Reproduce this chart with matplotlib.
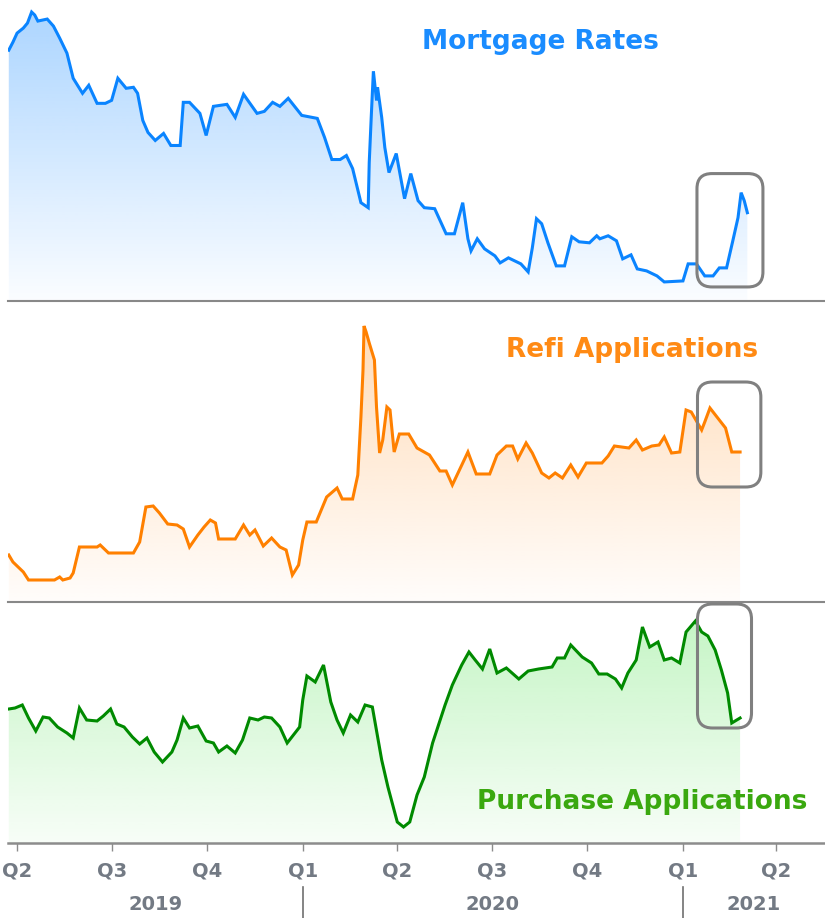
import matplotlib
matplotlib.use("Agg")
import matplotlib.pyplot as plt
import matplotlib.dates as mdates
import matplotlib.colors as mcolors
from matplotlib.patches import FancyBboxPatch
from matplotlib.lines import Line2D
import matplotlib.transforms as mtrans
import numpy as np
import pandas as pd

# --- data (index levels, no y scale shown) ---
rate_dates = ["2019-03-24", "2019-03-28", "2019-04-01", "2019-04-07", "2019-04-11", "2019-04-15",
              "2019-04-18", "2019-04-21", "2019-04-30", "2019-05-06", "2019-05-12", "2019-05-19",
              "2019-05-25", "2019-06-03", "2019-06-09", "2019-06-17", "2019-06-25", "2019-07-01",
              "2019-07-07", "2019-07-15", "2019-07-22", "2019-07-26", "2019-07-31", "2019-08-05",
              "2019-08-12", "2019-08-20", "2019-08-27", "2019-09-05", "2019-09-08", "2019-09-14",
              "2019-09-24", "2019-09-30", "2019-10-07", "2019-10-20", "2019-10-28", "2019-11-05",
              "2019-11-18", "2019-11-25", "2019-12-03", "2019-12-10", "2019-12-18", "2019-12-31",
              "2020-01-15", "2020-01-22", "2020-01-29", "2020-02-06", "2020-02-12", "2020-02-18",
              "2020-02-26", "2020-03-04", "2020-03-05", "2020-03-07", "2020-03-09", "2020-03-12",
              "2020-03-13", "2020-03-17", "2020-03-20", "2020-03-24", "2020-03-31", "2020-04-08",
              "2020-04-14", "2020-04-21", "2020-04-27", "2020-05-07", "2020-05-18", "2020-05-26",
              "2020-06-03", "2020-06-08", "2020-06-11", "2020-06-17", "2020-06-24", "2020-07-04",
              "2020-07-09", "2020-07-17", "2020-07-29", "2020-08-05", "2020-08-09", "2020-08-13",
              "2020-08-18", "2020-08-24", "2020-09-01", "2020-09-09", "2020-09-16", "2020-09-23",
              "2020-10-03", "2020-10-10", "2020-10-13", "2020-10-21", "2020-10-29", "2020-11-04",
              "2020-11-12", "2020-11-18", "2020-11-27", "2020-12-07", "2020-12-14", "2021-01-01",
              "2021-01-06", "2021-01-14", "2021-01-22", "2021-01-30", "2021-02-05", "2021-02-12",
              "2021-02-18", "2021-02-23", "2021-02-26", "2021-03-01", "2021-03-04"]
rate_vals = [250, 258, 267, 272, 277, 288, 285, 279, 281, 274, 262, 247,
             222, 207, 215, 197, 197, 200, 222, 212, 213, 207, 180, 168,
             160, 167, 155, 155, 198, 198, 187, 165, 194, 196, 183, 206,
             187, 189, 198, 194, 202, 185, 182, 163, 141, 141, 145, 132,
             98, 93, 138, 185, 229, 200, 213, 183, 153, 128, 147, 102,
             127, 100, 93, 92, 67, 67, 98, 62, 50, 62, 52, 45,
             38, 43, 37, 29, 53, 82, 77, 58, 35, 35, 64, 59,
             58, 65, 62, 65, 60, 42, 46, 32, 30, 25, 19, 20,
             37, 37, 25, 25, 33, 33, 60, 83, 108, 100, 88]

refi_dates = ["2019-03-24", "2019-03-28", "2019-04-07", "2019-04-12", "2019-05-07", "2019-05-12",
              "2019-05-15", "2019-05-22", "2019-05-25", "2019-05-31", "2019-06-17", "2019-06-20",
              "2019-06-28", "2019-07-22", "2019-07-28", "2019-08-03", "2019-08-10", "2019-08-16",
              "2019-08-24", "2019-09-02", "2019-09-08", "2019-09-14", "2019-09-22", "2019-09-28",
              "2019-10-04", "2019-10-09", "2019-10-12", "2019-10-28", "2019-11-05", "2019-11-11",
              "2019-11-16", "2019-11-24", "2019-12-02", "2019-12-10", "2019-12-16", "2019-12-22",
              "2019-12-28", "2020-01-01", "2020-01-05", "2020-01-14", "2020-01-24", "2020-02-03",
              "2020-02-08", "2020-02-18", "2020-02-23", "2020-02-26", "2020-02-28", "2020-02-29",
              "2020-03-02", "2020-03-05", "2020-03-10", "2020-03-12", "2020-03-15", "2020-03-18",
              "2020-03-22", "2020-03-25", "2020-03-29", "2020-04-03", "2020-04-12", "2020-04-20",
              "2020-05-02", "2020-05-12", "2020-05-18", "2020-05-24", "2020-06-08", "2020-06-16",
              "2020-06-29", "2020-07-06", "2020-07-15", "2020-07-21", "2020-07-26", "2020-08-03",
              "2020-08-09", "2020-08-18", "2020-08-25", "2020-08-31", "2020-09-07", "2020-09-15",
              "2020-09-22", "2020-09-30", "2020-10-15", "2020-10-21", "2020-10-27", "2020-11-10",
              "2020-11-17", "2020-11-23", "2020-12-02", "2020-12-09", "2020-12-14", "2020-12-21",
              "2020-12-29", "2021-01-04", "2021-01-09", "2021-01-19", "2021-01-22", "2021-01-27",
              "2021-02-05", "2021-02-11", "2021-02-17", "2021-02-25"]
refi_vals = [47, 40, 30, 22, 22, 25, 22, 24, 29, 55, 55, 57,
             49, 49, 60, 95, 96, 89, 78, 77, 73, 55, 67, 75,
             82, 79, 63, 63, 77, 67, 72, 56, 64, 55, 52, 27,
             37, 62, 80, 80, 105, 114, 103, 103, 127, 185, 232, 276,
             270, 259, 242, 195, 149, 162, 195, 192, 150, 168, 168, 154,
             147, 131, 131, 117, 150, 128, 128, 147, 156, 156, 143, 159,
             149, 129, 124, 129, 124, 137, 125, 139, 139, 146, 156, 154,
             162, 152, 156, 157, 165, 149, 150, 192, 190, 172, 180, 194,
             182, 174, 150, 150]

purch_dates = ["2019-03-24", "2019-03-30", "2019-04-06", "2019-04-12", "2019-04-19", "2019-04-26",
               "2019-05-02", "2019-05-10", "2019-05-19", "2019-05-25", "2019-05-31", "2019-06-07",
               "2019-06-17", "2019-06-23", "2019-06-30", "2019-07-06", "2019-07-13", "2019-07-21",
               "2019-07-28", "2019-08-04", "2019-08-11", "2019-08-19", "2019-08-28", "2019-09-02",
               "2019-09-08", "2019-09-14", "2019-09-22", "2019-09-30", "2019-10-07", "2019-10-12",
               "2019-10-20", "2019-10-28", "2019-11-04", "2019-11-11", "2019-11-19", "2019-11-25",
               "2019-12-02", "2019-12-10", "2019-12-17", "2019-12-23", "2019-12-29", "2020-01-01",
               "2020-01-05", "2020-01-13", "2020-01-21", "2020-01-28", "2020-02-03", "2020-02-09",
               "2020-02-16", "2020-02-23", "2020-03-01", "2020-03-08", "2020-03-17", "2020-03-23",
               "2020-04-01", "2020-04-07", "2020-04-13", "2020-04-20", "2020-04-27", "2020-05-05",
               "2020-05-17", "2020-05-24", "2020-06-02", "2020-06-09", "2020-06-15", "2020-06-22",
               "2020-06-29", "2020-07-06", "2020-07-15", "2020-07-27", "2020-08-05", "2020-08-15",
               "2020-08-28", "2020-09-02", "2020-09-09", "2020-09-15", "2020-09-26", "2020-10-05",
               "2020-10-12", "2020-10-20", "2020-10-28", "2020-11-03", "2020-11-09", "2020-11-17",
               "2020-11-23", "2020-11-30", "2020-12-08", "2020-12-14", "2020-12-21", "2020-12-29",
               "2021-01-04", "2021-01-13", "2021-01-19", "2021-01-25", "2021-02-01", "2021-02-07",
               "2021-02-13", "2021-02-17", "2021-02-25"]
purch_vals = [134, 135, 138, 125, 112, 126, 125, 116, 110, 105, 135, 123,
              122, 127, 134, 119, 116, 106, 99, 105, 91, 81, 91, 103,
              125, 115, 117, 102, 100, 91, 97, 90, 103, 125, 123, 126,
              125, 116, 100, 108, 116, 143, 167, 161, 178, 141, 123, 110,
              128, 121, 138, 136, 83, 56, 21, 16, 21, 48, 66, 100,
              138, 158, 178, 191, 183, 174, 194, 170, 175, 164, 172, 174,
              176, 185, 185, 198, 186, 180, 169, 169, 164, 155, 170, 183,
              216, 196, 201, 183, 185, 180, 211, 222, 211, 207, 193, 173,
              150, 120, 125]

titles = ["Mortgage Rates", "Refi Applications", "Purchase Applications"]
quarter_ticks = ["2019-04-01", "2019-07-01", "2019-10-01", "2020-01-01", "2020-04-01",
                 "2020-07-01", "2020-10-01", "2021-01-01", "2021-04-01"]
quarter_labels = ["Q2", "Q3", "Q4", "Q1", "Q2", "Q3", "Q4", "Q1", "Q2"]
years = ["2019", "2020", "2021"]
year_starts = ["2020-01-01", "2021-01-01"]

x_start = mdates.date2num(pd.Timestamp("2019-03-23 06:00"))
x_end = mdates.date2num(pd.Timestamp("2021-05-17 18:00"))

W, H = 825, 918
fig = plt.figure(figsize=(W / 100, H / 100), dpi=100)
fig.patch.set_facecolor("white")

def px_axes(top, bottom):
    left = 8
    return fig.add_axes([left / W, 1 - bottom / H, (W - left) / W, (bottom - top) / H])

ax1 = px_axes(0, 301)
ax2 = px_axes(302, 602)
ax3 = px_axes(603, 843)

# axis, dates, values, y top, line colour, fill colour, alpha top/bottom, title colour,
# title position (figure fraction), highlight box (date from, date to, low, high)
panels = [
    (ax1, rate_dates, rate_vals, 300, "#0a84ff", "#0a84ff", 0.35, 0.02, "#1a8cff",
     (0.655, 0.954), ("2021-01-14 12:00", "2021-03-19", 14, 127)),
    (ax2, refi_dates, refi_vals, 300, "#ff8000", "#ff8000", 0.30, 0.02, "#ff8a14",
     (0.766, 0.619), ("2021-01-15", "2021-03-17", 115, 220)),
    (ax3, purch_dates, purch_vals, 240, "#008a00", "#33dd33", 0.30, 0.04, "#3aa80f",
     (0.778, 0.126), ("2021-01-15", "2021-03-08", 115, 239)),
]

for i, (ax, dts, vals, ytop, lc, fc, a_top, a_bot, tc, tpos, box) in enumerate(panels):
    x = mdates.date2num(pd.to_datetime(dts))
    y = np.array(vals, dtype=float)
    ax.plot(x, y, color=lc, lw=2.2, zorder=4, solid_joinstyle="miter")
    # vertical gradient under the line
    poly = ax.fill_between(x, y, 0, facecolor="none", edgecolor="none")
    grad = np.zeros((200, 1, 4))
    grad[:, :, :3] = mcolors.to_rgb(fc)
    grad[:, 0, 3] = np.linspace(a_top, a_bot, 200)
    im = ax.imshow(grad, aspect="auto", extent=[x_start, x_end, 0, ytop],
                   origin="upper", zorder=2, interpolation="bilinear")
    im.set_clip_path(poly.get_paths()[0], transform=ax.transData)
    ax.set_xlim(x_start, x_end)
    ax.set_ylim(0, ytop)
    for s in ["top", "left", "right"]:
        ax.spines[s].set_visible(False)
    ax.spines["bottom"].set_color("#888888")
    ax.spines["bottom"].set_linewidth(1.5)
    ax.set_yticks([])
    ax.set_facecolor("none")
    fig.text(tpos[0], tpos[1], titles[i], color=tc, fontsize=19, fontweight="bold",
             ha="center", va="center", family="DejaVu Sans")

# x axis only on the bottom panel
for ax in (ax1, ax2):
    ax.set_xticks([])

ax3.spines["bottom"].set_linewidth(1.8)
ax3.spines["bottom"].set_color("#8c8c8c")
ax3.set_xticks(mdates.date2num(pd.to_datetime(quarter_ticks)))
ax3.set_xticklabels(quarter_labels)
ax3.tick_params(axis="x", length=6, width=1, color="#8c8c8c", pad=7,
                labelsize=14, labelcolor="#737a84")
for lab in ax3.get_xticklabels():
    lab.set_fontweight("bold")

# year labels and year separators below the quarter labels
trans = mtrans.blended_transform_factory(ax3.transData, ax3.transAxes)
edges = [x_start] + list(mdates.date2num(pd.to_datetime(year_starts))) + [x_end]
for i, yr in enumerate(years):
    ax3.text((edges[i] + edges[i + 1]) / 2, -0.258, yr, transform=trans, ha="center",
             va="center", fontsize=14, fontweight="bold", color="#737a84", clip_on=False)
for d in year_starts:
    xd = mdates.date2num(pd.Timestamp(d))
    ax3.add_line(Line2D([xd, xd], [-0.183, -0.33], transform=trans, color="#707070",
                        lw=1.2, clip_on=False))

# rounded highlight boxes around the latest moves
fig.canvas.draw()
for ax, dts, vals, ytop, lc, fc, a_top, a_bot, tc, tpos, box in panels:
    x0 = mdates.date2num(pd.Timestamp(box[0]))
    x1 = mdates.date2num(pd.Timestamp(box[1]))
    (px0, py0), (px1, py1) = ax.transData.transform([(x0, box[2]), (x1, box[3])])
    patch = FancyBboxPatch((px0, py0), px1 - px0, py1 - py0,
                           boxstyle="round,pad=0,rounding_size=15",
                           transform=None, facecolor="none", edgecolor="#808080",
                           lw=2.2, zorder=10)
    fig.add_artist(patch)

fig.savefig("out.png", dpi=100, facecolor="white")
